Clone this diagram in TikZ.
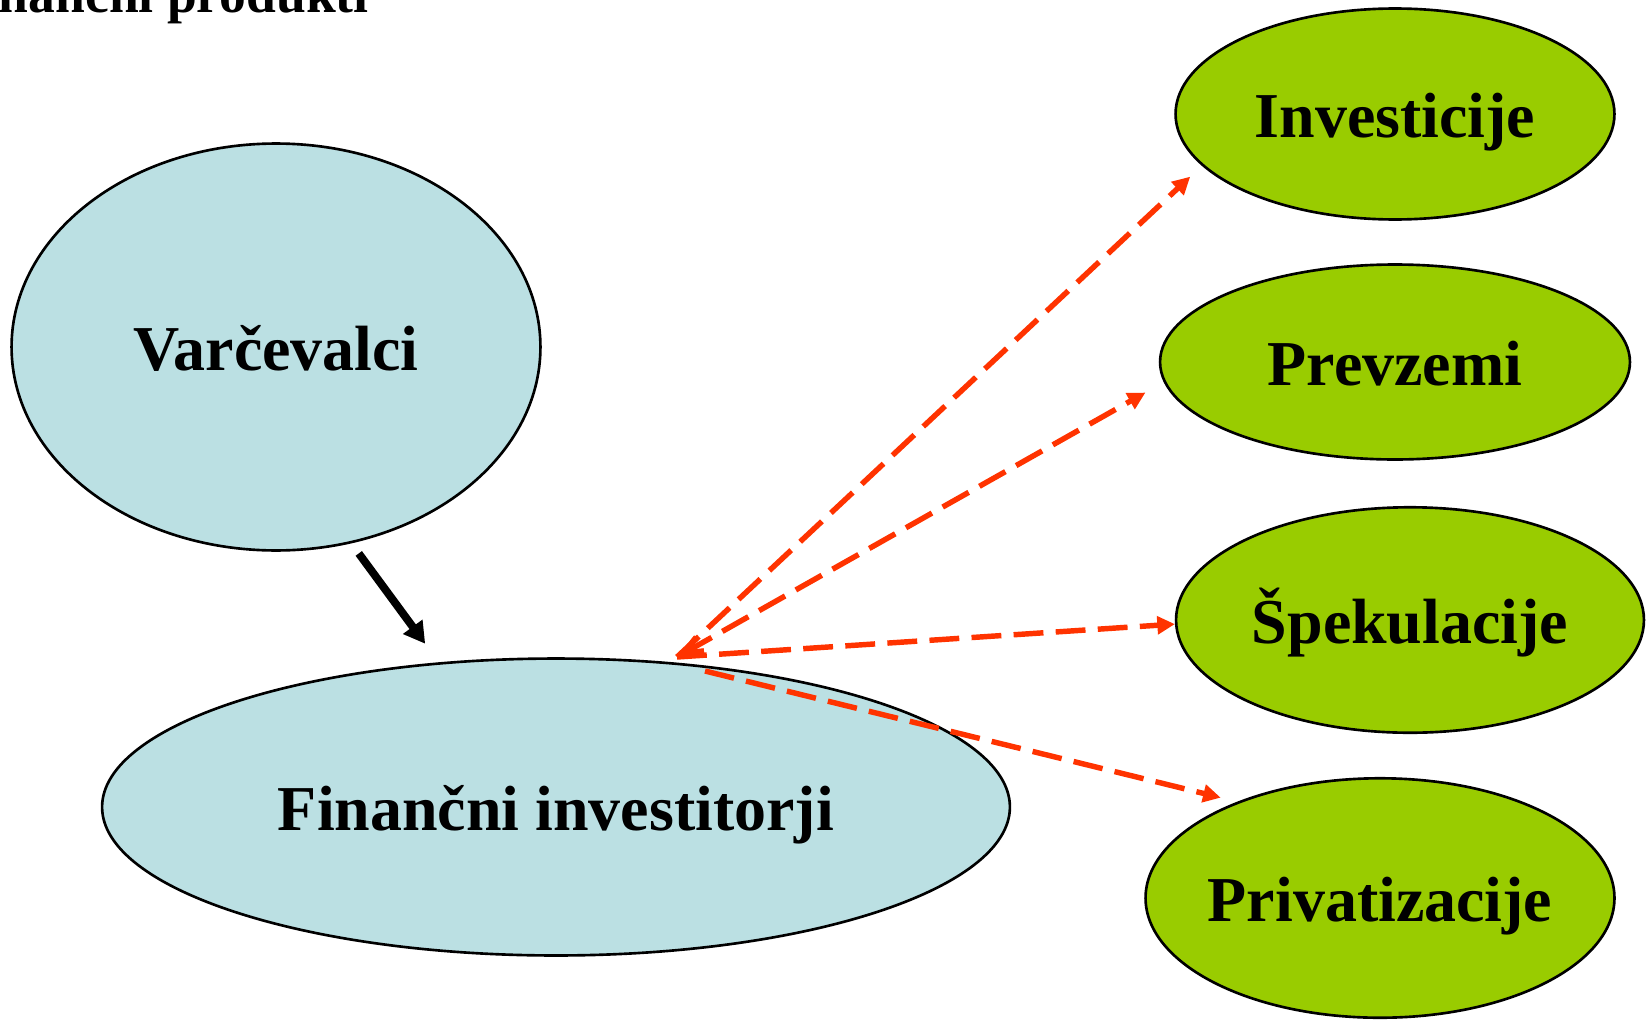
\documentclass[tikz,border=0pt]{standalone}
\usepackage{fontspec}
\setmainfont{Liberation Serif}
\usetikzlibrary{arrows.meta,shapes.geometric}

\definecolor{saverblue}{RGB}{187,224,227}
\definecolor{usegreen}{RGB}{153,204,0}
\definecolor{flowred}{RGB}{255,51,0}

\tikzset{
  blob/.style={ellipse, draw=black, line width=1.5pt, inner ysep=0pt, inner xsep=-30pt,
    font=\fontsize{36.4}{40}\selectfont\bfseries, text height=32.8pt, text depth=5.8pt},
  saver/.style={blob, fill=saverblue},
  target/.style={blob, fill=usegreen},
  flow/.style={flowred, line width=3.1pt, dash pattern=on 17pt off 7pt,
    -{Triangle[length=10pt,width=10pt]}},
}

\begin{document}
\begin{tikzpicture}[x=0.02cm, y=-0.02cm]
    \useasboundingbox (0,0) rectangle (1646,1021);
    \clip (0,0) rectangle (1646,1021);
    % heading, cut by the page edge
    \node[anchor=base east, inner sep=0pt, font=\fontsize{30.5}{34}\selectfont\bfseries] (title) at (369,12) {Finančni produkti};
    % who saves, who invests
    \node[saver, minimum width=10.58cm, minimum height=8.14cm] (var) at (276,347) {Varčevalci};
    \node[saver, minimum width=18.16cm, minimum height=5.94cm] (fin) at (556,807) {Finančni investitorji};
    % where the money goes
    \node[target, minimum width=8.78cm, minimum height=4.22cm] (inv) at (1395,114) {Investicije};
    \node[target, minimum width=9.40cm, minimum height=3.90cm] (prev) at (1395,362) {Prevzemi};
    \node[target, minimum width=9.36cm, minimum height=4.51cm] (spek) at (1410,620) {Špekulacije};
    \node[target, minimum width=9.38cm, minimum height=4.79cm] (priv) at (1380,898) {Privatizacije};
    \coordinate (hub) at (677,657);
    \coordinate (hublow) at (705,671);
    \draw[line width=4.5pt, -{Triangle[length=12pt,width=13pt]}, shorten <=0.25cm, shorten >=0.46cm] (var.-69.3) -- (fin.129.5);
    \draw[flow, shorten >=0.32cm] (hub) -- (inv.195.8);
    \draw[flow, {Straight Barb[length=11pt,width=9pt]}-{Triangle[length=10pt,width=10pt]}, shorten >=0.42cm] (hub) -- (prev.185.5);
    \draw[flow] (hub) -- (spek.181.5);
    \draw[flow, shorten >=0.34cm] (hublow) -- (priv.146.9);
  \end{tikzpicture}
\end{document}
